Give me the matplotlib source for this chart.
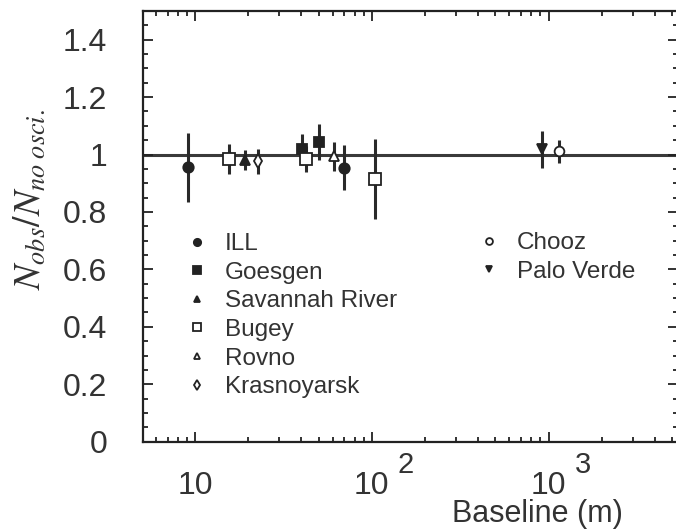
import matplotlib
matplotlib.use("Agg")
import matplotlib.pyplot as plt
from matplotlib.ticker import MultipleLocator, FixedLocator, NullFormatter, FixedFormatter
import matplotlib.transforms as mtransforms

plt.rcParams['font.family'] = ['Liberation Sans', 'DejaVu Sans']
plt.rcParams['mathtext.fontset'] = 'stix'

# reactor experiments: baseline (m), ratio, error
ill_x = [9.1, 70.0]
ill_y = [0.955, 0.954]
ill_e = [0.12, 0.078]

goesgen_x = [40.4, 50.2]
goesgen_y = [1.018, 1.043]
goesgen_e = [0.055, 0.063]

savannah_x = [19.2]
savannah_y = [0.980]
savannah_e = [0.035]

bugey_x = [15.6, 42.7, 104.0]
bugey_y = [0.986, 0.985, 0.914]
bugey_e = [0.052, 0.045, 0.14]

rovno_x = [61.0]
rovno_y = [0.994]
rovno_e = [0.05]

krasno_x = [22.8]
krasno_y = [0.976]
krasno_e = [0.043]

chooz_x = [1153.0]
chooz_y = [1.012]
chooz_e = [0.04]

paloverde_x = [922.0]
paloverde_y = [1.018]
paloverde_e = [0.065]

dark = '#222222'
txt = '#333333'
W, H = 676, 531
fig = plt.figure(figsize=(W / 100, H / 100), dpi=100)
left, right, top, bottom = 143.3, 678, 11, 441.7
ax = fig.add_axes([left / W, 1 - bottom / H, (right - left) / W, (bottom - top) / H])

ax.axhline(1.0, color='#3a3a3a', lw=2.2, zorder=1)

def series(x, y, e, marker, filled, ms):
    fc = dark if filled else 'white'
    eb = ax.errorbar(x, y, yerr=e, fmt=marker, ms=ms, mfc=fc, mec=dark, mew=1.3,
                     ecolor='#2a2a2a', elinewidth=2.2, capsize=0, zorder=3)
    return eb[0]

h_ill = series(ill_x, ill_y, ill_e, 'o', True, 7.5)
h_goe = series(goesgen_x, goesgen_y, goesgen_e, 's', True, 7.5)
h_sav = series(savannah_x, savannah_y, savannah_e, '^', True, 7)
h_bug = series(bugey_x, bugey_y, bugey_e, 's', False, 8)
h_rov = series(rovno_x, rovno_y, rovno_e, '^', False, 7)
h_kra = series(krasno_x, krasno_y, krasno_e, 'd', False, 7)
h_cho = series(chooz_x, chooz_y, chooz_e, 'o', False, 7)
h_pal = series(paloverde_x, paloverde_y, paloverde_e, 'v', True, 7)

ax.set_xscale('log')
ax.set_xlim(5.1, 5400)
ax.set_ylim(0, 1.5)

ax.yaxis.set_major_locator(FixedLocator([0, 0.2, 0.4, 0.6, 0.8, 1.0, 1.2, 1.4]))
ax.yaxis.set_major_formatter(FixedFormatter(['0', '0.2', '0.4', '0.6', '0.8', '1', '1.2', '1.4']))
ax.yaxis.set_minor_locator(MultipleLocator(0.05))

ax.xaxis.set_major_locator(FixedLocator([10, 100, 1000]))
ax.xaxis.set_major_formatter(FixedFormatter(['10', '10', '10']))
ax.xaxis.set_minor_formatter(NullFormatter())

ax.tick_params(which='both', direction='in', top=True, right=True, color=dark, width=1.3)
ax.tick_params(which='major', length=7, labelsize=23, labelcolor=txt)
ax.tick_params(which='minor', length=3.5)
ax.tick_params(axis='x', which='major', pad=21)
ax.tick_params(axis='y', which='major', pad=26)

for s in ax.spines.values():
    s.set_linewidth(1.6)
    s.set_color(dark)

# exponents for 10^2 and 10^3
trans = mtransforms.blended_transform_factory(ax.transData, ax.transAxes)
for xv, lab in [(100, '2'), (1000, '3')]:
    ax.text(xv * 1.56, -0.055, lab, transform=trans, fontsize=21, color=txt,
            ha='center', va='center')

ax.set_xlabel('Baseline (m)', fontsize=22, color=txt)
ax.xaxis.set_label_coords(0.737, (bottom - 522) / (bottom - top))
ax.xaxis.label.set_va('baseline')

ax.set_ylabel(r'$N_{obs}/N_{no\ osci.}$', fontsize=27, color=txt)
ax.yaxis.set_label_coords(-0.21, 0.563)
ax.yaxis.label.set_va('center')

leg_kw = dict(loc='upper left', frameon=False, fontsize=17.5, handlelength=1.0,
              handletextpad=0.65, labelspacing=0.27, borderpad=0, borderaxespad=0,
              markerscale=0.7, labelcolor=txt)
leg1 = ax.legend([h_ill, h_goe, h_sav, h_bug, h_rov, h_kra],
                 ['ILL', 'Goesgen', 'Savannah River', 'Bugey', 'Rovno', 'Krasnoyarsk'],
                 bbox_to_anchor=(0.078, 0.484), **leg_kw)
ax.add_artist(leg1)
ax.legend([h_cho, h_pal], ['Chooz', 'Palo Verde'], bbox_to_anchor=(0.623, 0.486), **leg_kw)

fig.savefig('out.png', dpi=100)
